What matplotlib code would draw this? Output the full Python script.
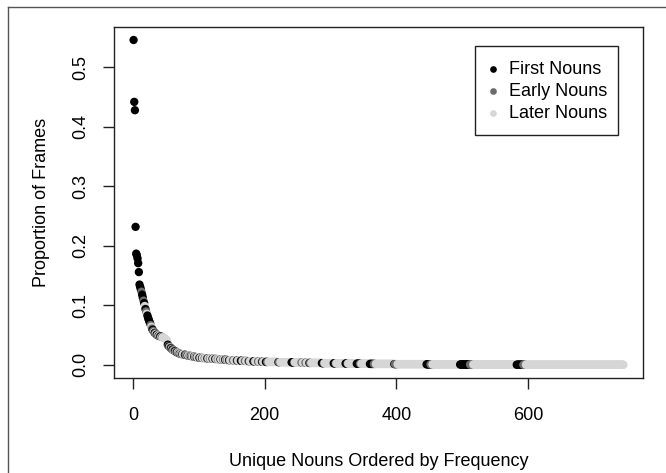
import numpy as np
import matplotlib
matplotlib.use("Agg")
import matplotlib.pyplot as plt
from matplotlib.lines import Line2D
from matplotlib.patches import Rectangle

plt.rcParams['font.family'] = ['Liberation Sans', 'DejaVu Sans']

# ---------------- data ----------------
N_FRAMES = 3000
# frame counts of the most frequent nouns (ranks 1-70)
head_counts = [1638, 1326, 1284, 696, 561, 552, 537, 513, 468,
               405, 393, 381, 369, 354, 339, 324, 312, 297, 282, 270,
               258, 249, 237, 228, 219, 210, 201, 192, 183, 177,
               171, 165, 162, 159, 156, 153, 150, 150, 147, 147,
               144, 144, 141, 141, 138, 138, 135, 135, 132, 129,
               126, 120, 102, 96, 93, 90, 87, 84, 81, 78,
               75, 72, 72, 69, 66, 66, 63, 63, 60, 60]
# F = first nouns, E = early nouns, L = later nouns
head_cats = ("FFFFFFFFF" + "FFFEFFEF" + "LFELF" + "FFFFE" + "LEFELFEL"
             + "FELFLEFLEL" + "LLLLLLL" + "FEFLEFLFELEFLEFLEL")

# tied frame counts for the rest, with number of nouns of each class
tail_counts = [57, 55, 54, 52, 51, 49, 48, 46, 45, 43, 42, 40, 39, 37, 36,
               35, 34, 33, 32, 31, 30, 29, 28, 27, 26, 25, 24, 23, 22, 21,
               20, 19, 18, 17, 16, 15, 14, 13, 12, 11, 10, 9, 8, 7, 6,
               5, 4, 3, 2, 1]
tail_nF = [1, 0, 1, 0, 1, 0, 1, 0, 1, 0, 1, 0, 1, 0, 1, 1, 0, 1, 0, 1,
           1, 0, 1, 0, 1, 0, 1, 0, 1, 2, 0, 1, 2, 0, 1, 2, 1, 4, 0, 0,
           1, 3, 3, 3, 5, 6, 1, 6, 15, 10]
tail_nE = [0, 1, 0, 0, 1, 1, 0, 1, 0, 1, 0, 1, 0, 0, 1, 0, 1, 1, 1, 0,
           1, 1, 0, 1, 1, 1, 1, 2, 1, 1, 2, 1, 1, 2, 1, 2, 2, 1, 2, 2,
           2, 1, 1, 1, 2, 3, 4, 3, 5, 4]
tail_nL = [1, 1, 1, 2, 0, 1, 2, 1, 1, 2, 1, 1, 1, 2, 2, 3, 3, 2, 3, 3,
           2, 3, 3, 2, 1, 2, 4, 4, 4, 3, 4, 5, 4, 4, 4, 15, 17, 10, 4, 4,
           16, 14, 14, 13, 13, 28, 44, 42, 66, 149]

legend_labels = ["First Nouns", "Early Nouns", "Later Nouns"]
class_colors = {"F": "#000000", "E": "#6b6b6b", "L": "#d6d6d6"}

# ---------------- assemble ----------------
counts = list(head_counts)
cats = list(head_cats)
for c, nf, ne, nl in zip(tail_counts, tail_nF, tail_nE, tail_nL):
    grp = "F" * nf + "E" * ne + "L" * nl
    cats += list(grp)
    counts += [c] * len(grp)
y = np.array(counts) / N_FRAMES
x = np.arange(1, len(y) + 1)
cols = [class_colors[k] for k in cats]

# ---------------- figure ----------------
W, H = 666, 473
fig = plt.figure(figsize=(W / 100, H / 100), dpi=100)
L, R, T, B = 114, 643, 27, 378
ax = fig.add_axes([L / W, 1 - B / H, (R - L) / W, (B - T) / H])

ax.scatter(x, y, s=36, c=cols, linewidths=0, zorder=3)

n = len(x)
px = 0.04 * (n - 1)
ax.set_xlim(1 - px, n + px)
py = 0.04 * (y.max() - y.min())
ax.set_ylim(y.min() - py - 0.0005, y.max() + py)

ax.set_xticks([0, 200, 400, 600])
ax.set_yticks([0.0, 0.1, 0.2, 0.3, 0.4, 0.5])
ax.set_yticklabels(["0.0", "0.1", "0.2", "0.3", "0.4", "0.5"])
ax.tick_params(axis='both', length=8, width=1, labelsize=13, color='#222222')
ax.tick_params(axis='x', pad=13)
ax.tick_params(axis='y', pad=10)
for lab in ax.get_yticklabels():
    lab.set_rotation(90)
    lab.set_va('center')
for sp in ax.spines.values():
    sp.set_linewidth(1)
    sp.set_color('#222222')

ax.set_xlabel("Unique Nouns Ordered by Frequency", fontsize=13, labelpad=21)
ax.set_ylabel("Proportion of Frames", fontsize=13, labelpad=16)

# legend (drawn like R's legend box)
lx0, ly0, lx1, ly1 = 475, 46, 618, 135
fig.add_artist(Rectangle((lx0 / W, 1 - ly1 / H), (lx1 - lx0) / W, (ly1 - ly0) / H,
                         transform=fig.transFigure, fill=False, ec='#222222', lw=1))
for i, (lab, k) in enumerate(zip(legend_labels, ["F", "E", "L"])):
    yy = 1 - (69 + 22 * i) / H
    fig.add_artist(Line2D([493 / W], [yy], marker='o', ms=4.8, mew=0,
                          color=class_colors[k], transform=fig.transFigure))
    fig.text(509 / W, yy, lab, fontsize=13, va='center', ha='left')

# outer frame (partially visible in the image)
fig.add_artist(Line2D([8 / W, 8 / W], [0, 1 - 7 / H], color='#555555', lw=1,
                      transform=fig.transFigure))
fig.add_artist(Line2D([8 / W, 1], [1 - 7 / H, 1 - 7 / H], color='#555555', lw=1,
                      transform=fig.transFigure))

fig.savefig("out.png", dpi=100)
